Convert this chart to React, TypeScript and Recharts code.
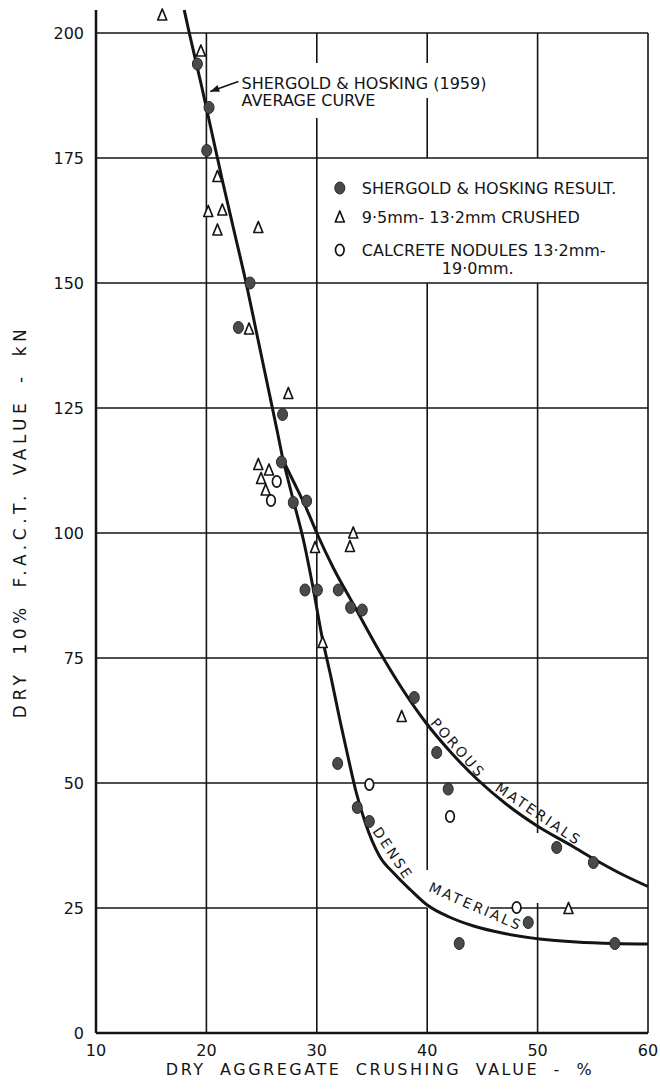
import React from 'react';
import {
  ComposedChart,
  Line,
  Scatter,
  XAxis,
  YAxis,
  ReferenceLine,
  ReferenceDot,
} from 'recharts';

const FONT = '"DejaVu Sans", "Liberation Sans", sans-serif';
const INK = '#141414';

// ---------- axes ----------
const xTicks = [10, 20, 30, 40, 50, 60];
const yTicks = [0, 25, 50, 75, 100, 125, 150, 175, 200];
const xTitle = 'DRY AGGREGATE CRUSHING VALUE - %';
const yTitle = 'DRY 10% F.A.C.T. VALUE - kN';

// ---------- observations ----------
const shergoldResults = [
  { x: 19.18, y: 193.8 }, { x: 20.24, y: 185.1 }, { x: 20.03, y: 176.5 },
  { x: 23.95, y: 150.0 }, { x: 22.9, y: 141.1 }, { x: 26.9, y: 123.7 },
  { x: 26.8, y: 114.2 }, { x: 27.87, y: 106.1 }, { x: 29.08, y: 106.4 },
  { x: 28.93, y: 88.6 }, { x: 30.05, y: 88.6 }, { x: 31.95, y: 88.6 },
  { x: 33.06, y: 85.1 }, { x: 34.12, y: 84.6 }, { x: 38.83, y: 67.1 },
  { x: 40.86, y: 56.1 }, { x: 31.89, y: 53.9 }, { x: 41.9, y: 48.8 },
  { x: 33.67, y: 45.1 }, { x: 34.76, y: 42.3 }, { x: 51.73, y: 37.1 },
  { x: 55.05, y: 34.1 }, { x: 49.15, y: 22.1 }, { x: 42.9, y: 17.9 },
  { x: 57.0, y: 17.9 },
];

const crushed = [
  { x: 16.0, y: 203.6 }, { x: 19.5, y: 196.4 }, { x: 21.0, y: 171.3 },
  { x: 20.17, y: 164.3 }, { x: 21.44, y: 164.6 }, { x: 21.0, y: 160.6 },
  { x: 24.7, y: 161.1 }, { x: 23.86, y: 140.8 }, { x: 27.42, y: 127.9 },
  { x: 24.7, y: 113.7 }, { x: 25.67, y: 112.6 }, { x: 24.95, y: 110.9 },
  { x: 25.37, y: 108.6 }, { x: 33.3, y: 100.0 }, { x: 33.0, y: 97.3 },
  { x: 29.84, y: 97.1 }, { x: 30.53, y: 78.1 }, { x: 37.69, y: 63.3 },
  { x: 52.8, y: 24.9 },
];

const calcrete = [
  { x: 26.37, y: 110.3 }, { x: 25.85, y: 106.5 }, { x: 34.76, y: 49.7 },
  { x: 42.07, y: 43.3 }, { x: 48.1, y: 25.1 },
];

// ---------- curves ----------
const averageCurve = [
  { x: 17.99, y: 204.6 }, { x: 18.45, y: 200 }, { x: 19.5, y: 190 },
  { x: 20.5, y: 180 }, { x: 21.5, y: 170 }, { x: 22.55, y: 160 },
  { x: 23.6, y: 150 }, { x: 24.55, y: 140 }, { x: 25.5, y: 130 },
  { x: 26.45, y: 120 }, { x: 26.95, y: 114.5 },
];

const denseCurve = [
  { x: 26.95, y: 114.5 }, { x: 27.9, y: 106.3 }, { x: 28.8, y: 98.5 },
  { x: 29.7, y: 88.6 }, { x: 30.45, y: 79.5 }, { x: 31.3, y: 71 },
  { x: 32.1, y: 62.5 }, { x: 32.9, y: 54.5 }, { x: 33.55, y: 48.3 },
  { x: 34.4, y: 42.0 }, { x: 35.7, y: 35.3 }, { x: 37.0, y: 31.9 },
  { x: 38.5, y: 28.6 }, { x: 40.0, y: 25.6 }, { x: 42.0, y: 23.2 },
  { x: 44.2, y: 21.4 }, { x: 47.0, y: 19.9 }, { x: 50.2, y: 18.8 },
  { x: 53.5, y: 18.2 }, { x: 57.0, y: 17.9 }, { x: 60.0, y: 17.8 },
];

const porousCurve = [
  { x: 26.95, y: 114.5 }, { x: 28.0, y: 109.8 }, { x: 29.0, y: 105.2 },
  { x: 30.0, y: 100 }, { x: 31.5, y: 93 }, { x: 33.3, y: 85.8 },
  { x: 35.6, y: 76.6 }, { x: 37.6, y: 69.3 }, { x: 39.8, y: 62.3 },
  { x: 42.2, y: 56 }, { x: 44.6, y: 50.6 }, { x: 47.2, y: 45.7 },
  { x: 49.9, y: 41.5 }, { x: 53.2, y: 37.3 }, { x: 55.1, y: 34.8 },
  { x: 57.5, y: 31.9 }, { x: 60.0, y: 29.3 },
];

// ---------- annotations ----------
const curveLabels = [
  { x: 42.8, y: 57.0, text: 'POROUS', angle: 48.6 },
  { x: 50.1, y: 43.8, text: 'MATERIALS', angle: 34 },
  { x: 36.9, y: 35.9, text: 'DENSE', angle: 56 },
  { x: 44.4, y: 25.3, text: 'MATERIALS', angle: 23.5 },
];

const averageNote = [{ x: 23.18, y: 188.9, lines: ['SHERGOLD & HOSKING (1959)', 'AVERAGE CURVE'] }];
const arrowFrom = { x: 22.9, y: 190.3 };
const arrowTip = { x: 20.35, y: 188.3 };

const legendAnchor = { x: 30, y: 175 };
const legendLabels = [
  'SHERGOLD & HOSKING RESULT.',
  '9·5mm- 13·2mm CRUSHED',
  'CALCRETE NODULES 13·2mm-',
  '19·0mm.',
];

// grid segments (gaps where the original lettering erased the grid)
const vGrid = [
  { x: 20, y1: 0, y2: 200 },
  { x: 30, y1: 0, y2: 183 }, { x: 30, y1: 194, y2: 200 },
  { x: 40, y1: 0, y2: 25 }, { x: 40, y1: 32.6, y2: 150 },
  { x: 40, y1: 175, y2: 187 }, { x: 40, y1: 194, y2: 200 },
  { x: 50, y1: 0, y2: 26 }, { x: 50, y1: 40, y2: 150 },
  { x: 50, y1: 175, y2: 200 },
  { x: 60, y1: 0, y2: 200 },
];
const hGrid = [
  { y: 25, x1: 10, x2: 40 }, { y: 25, x1: 45.7, x2: 60 },
  { y: 50, x1: 10, x2: 60 }, { y: 75, x1: 10, x2: 60 },
  { y: 100, x1: 10, x2: 60 }, { y: 125, x1: 10, x2: 60 },
  { y: 150, x1: 10, x2: 60 }, { y: 175, x1: 10, x2: 60 },
  { y: 200, x1: 10, x2: 60 },
];

// ---------- shapes ----------
const FilledDot = (p: any) => (
  <ellipse cx={p.cx} cy={p.cy} rx={5} ry={6} fill="#4a4a4a" stroke="#262626" strokeWidth={1} />
);
const TriangleMark = (p: any) => (
  <polygon
    points={`${p.cx},${p.cy - 6} ${p.cx - 4.5},${p.cy + 5} ${p.cx + 4.5},${p.cy + 5}`}
    fill="#fff"
    stroke={INK}
    strokeWidth={1.7}
    strokeLinejoin="round"
  />
);
const OpenCircle = (p: any) => (
  <ellipse cx={p.cx} cy={p.cy} rx={4.3} ry={5.6} fill="#fff" stroke={INK} strokeWidth={1.7} />
);

const CurveLabel = (p: any) => (
  <text
    x={p.cx}
    y={p.cy}
    transform={`rotate(${p.payload.angle} ${p.cx} ${p.cy})`}
    textAnchor="middle"
    dominantBaseline="central"
    fontSize={14}
    fontFamily={FONT}
    letterSpacing={2.5}
    fill={INK}
  >
    {p.payload.text}
  </text>
);

const NoteText = (p: any) => (
  <text x={p.cx} y={p.cy} fontSize={16} fontFamily={FONT} fill={INK}>
    <tspan x={p.cx} dy={0}>{p.payload.lines[0]}</tspan>
    <tspan x={p.cx} dy={17.5}>{p.payload.lines[1]}</tspan>
  </text>
);

const ArrowHead = (p: any) => (
  <polygon
    points="0,0 -9,-3.6 -9,3.6"
    fill={INK}
    transform={`translate(${p.cx} ${p.cy}) rotate(160)`}
  />
);

const LegendBlock = (p: any) => {
  const x0 = p.cx;
  const y0 = p.cy;
  const tx = x0 + 45;
  const sx = x0 + 23;
  const style = { fontSize: 16, fontFamily: FONT, fill: INK } as any;
  return (
    <g>
      <FilledDot cx={sx} cy={y0 + 30} />
      <text x={tx} y={y0 + 36} {...style}>{legendLabels[0]}</text>
      <TriangleMark cx={sx} cy={y0 + 59} />
      <text x={tx} y={y0 + 65} {...style}>{legendLabels[1]}</text>
      <OpenCircle cx={sx} cy={y0 + 92} />
      <text x={tx} y={y0 + 98} {...style}>{legendLabels[2]}</text>
      <text x={x0 + 125} y={y0 + 116} {...style}>{legendLabels[3]}</text>
    </g>
  );
};

const XTitle = (props: any) => {
  const vb = props.viewBox;
  return (
    <text
      x={vb.x + vb.width / 2 + 8}
      y={vb.y + 42}
      textAnchor="middle"
      fontSize={16}
      fontFamily={FONT}
      fill={INK}
      style={{ letterSpacing: '2.5px', wordSpacing: '7px' }}
    >
      {xTitle}
    </text>
  );
};

const YTitle = (props: any) => {
  const vb = props.viewBox;
  const cx = vb.x + 20;
  const cy = vb.y + vb.height / 2;
  return (
    <text
      x={cx}
      y={cy}
      transform={`rotate(-90 ${cx} ${cy})`}
      textAnchor="middle"
      dominantBaseline="central"
      fontSize={17}
      fontFamily={FONT}
      fill={INK}
      style={{ letterSpacing: '4.5px', wordSpacing: '6px' }}
    >
      {yTitle}
    </text>
  );
};

export default function App() {
  return (
    <div style={{ position: 'absolute', left: 0, top: 0, background: '#fff' }}>
      <ComposedChart
        width={660}
        height={1089}
        margin={{ top: 10, right: 12, bottom: 0, left: 0 }}
      >
        <XAxis
          type="number"
          dataKey="x"
          domain={[10, 60]}
          ticks={xTicks}
          interval={0}
          allowDecimals={false}
          height={56}
          tickLine={false}
          tickSize={0}
          tickMargin={12}
          axisLine={{ stroke: INK, strokeWidth: 2.5 }}
          tick={{ fontSize: 16, fill: INK, fontFamily: FONT }}
          label={<XTitle />}
        />
        <YAxis
          type="number"
          dataKey="y"
          domain={[0, 204.6]}
          ticks={yTicks}
          interval={0}
          width={96}
          tickLine={false}
          tickSize={0}
          tickMargin={12}
          axisLine={{ stroke: INK, strokeWidth: 2.5 }}
          tick={{ fontSize: 16, fill: INK, fontFamily: FONT }}
          label={<YTitle />}
        />

        {vGrid.map((g, i) => (
          <ReferenceLine
            key={`v${i}`}
            segment={[{ x: g.x, y: g.y1 }, { x: g.x, y: g.y2 }]}
            stroke={INK}
            strokeWidth={1.6}
          />
        ))}
        {hGrid.map((g, i) => (
          <ReferenceLine
            key={`h${i}`}
            segment={[{ x: g.x1, y: g.y }, { x: g.x2, y: g.y }]}
            stroke={INK}
            strokeWidth={1.6}
          />
        ))}

        <Line data={averageCurve} dataKey="y" type="monotone" stroke={INK} strokeWidth={3} dot={false} isAnimationActive={false} />
        <Line data={denseCurve} dataKey="y" type="monotone" stroke={INK} strokeWidth={3} dot={false} isAnimationActive={false} />
        <Line data={porousCurve} dataKey="y" type="monotone" stroke={INK} strokeWidth={3} dot={false} isAnimationActive={false} />

        <Scatter data={crushed} dataKey="y" shape={<TriangleMark />} isAnimationActive={false} />
        <Scatter data={calcrete} dataKey="y" shape={<OpenCircle />} isAnimationActive={false} />
        <Scatter data={shergoldResults} dataKey="y" shape={<FilledDot />} isAnimationActive={false} />

        <Scatter data={curveLabels} dataKey="y" shape={<CurveLabel />} isAnimationActive={false} />
        <Scatter data={averageNote} dataKey="y" shape={<NoteText />} isAnimationActive={false} />

        <ReferenceLine segment={[arrowFrom, arrowTip]} stroke={INK} strokeWidth={1.6} />
        <ReferenceDot x={arrowTip.x} y={arrowTip.y} r={3} shape={<ArrowHead />} />
        <ReferenceDot x={legendAnchor.x} y={legendAnchor.y} r={3} shape={<LegendBlock />} />
      </ComposedChart>
    </div>
  );
}
